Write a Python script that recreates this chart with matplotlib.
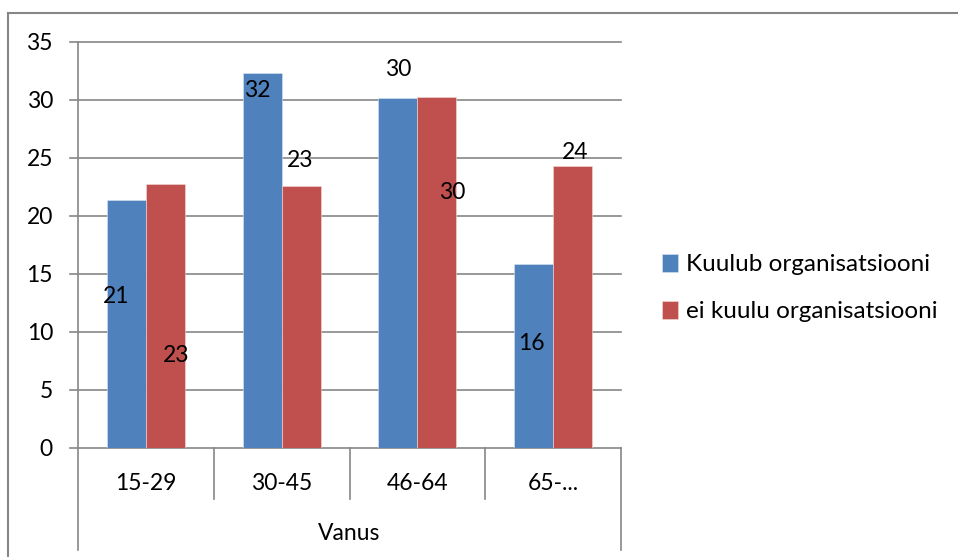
import numpy as np
from matplotlib import pyplot as plt
from matplotlib.lines import Line2D

plt.rcParams['font.family'] = ['Lato', 'DejaVu Sans']

categories = ['15-29', '30-45', '46-64', '65-...']
group_title = 'Vanus'
series_names = ['Kuulub organisatsiooni', 'ei kuulu organisatsiooni']
kuulub = [21.4, 32.3, 30.2, 15.9]
ei_kuulu = [22.8, 22.6, 30.3, 24.3]
label_kuulub = ['21', '32', '30', '16']
label_ei = ['23', '23', '30', '24']
yticks = [0, 5, 10, 15, 20, 25, 30, 35]

# where the data labels were dragged to (x offset from category, y in data units)
lab_pos_k = [(-0.22, 13.1), (-0.18, 30.8), (-0.143, 32.6), (-0.16, 9.05)]
lab_pos_e = [(0.22, 8.0), (0.135, 24.8), (0.255, 22.0), (0.16, 25.5)]

blue = '#4F81BD'
red = '#C0504D'
grey = '#868686'
fs = 16.5

W, H = 958, 557
fig = plt.figure(figsize=(W / 100, H / 100), dpi=100)
ax = fig.add_axes([78 / W, (H - 448) / H, (621 - 78) / W, (448 - 42) / H])

x = np.arange(len(categories))
w = 0.287
ax.bar(x - w / 2, kuulub, w, color=blue, edgecolor='#dce6f2', linewidth=0.4,
       label=series_names[0], zorder=3)
ax.bar(x + w / 2, ei_kuulu, w, color=red, edgecolor='#f2dcdb', linewidth=0.4,
       label=series_names[1], zorder=3)

for i in range(len(categories)):
    dx, yy = lab_pos_k[i]
    ax.text(i + dx, yy, label_kuulub[i], ha='center', va='center', fontsize=fs, zorder=5)
    dx, yy = lab_pos_e[i]
    ax.text(i + dx, yy, label_ei[i], ha='center', va='center', fontsize=fs, zorder=5)

ax.set_xlim(-0.5, len(categories) - 0.5)
ax.set_ylim(0, 35)
for s in ax.spines.values():
    s.set_visible(False)
for t in yticks:
    ax.plot([-0.5 - 8 / 135.75, len(categories) - 0.5], [t, t], color=grey,
            linewidth=1.2, clip_on=False, zorder=1)
ax.set_yticks(yticks)
ax.tick_params(axis='y', length=0, pad=18, labelsize=fs)
ax.set_xticks([])

# category axis drawn like excel's multi-level labels
px = 35 / (448 - 42)  # data units per pixel in y
ax.plot([-0.5, -0.5], [35, -(550 - 448) * px], color=grey, linewidth=1.2, clip_on=False)
ax.plot([3.5, 3.5], [0, -(550 - 448) * px], color=grey, linewidth=1.2, clip_on=False)
for b in [0.5, 1.5, 2.5]:
    ax.plot([b, b], [0, -(499 - 448) * px], color=grey, linewidth=1.2, clip_on=False)
for i, c in enumerate(categories):
    ax.text(i, -(483 - 448) * px, c, ha='center', va='center', fontsize=fs)
ax.text(1.5, -(533 - 448) * px, group_title, ha='center', va='center', fontsize=fs)

ax.legend(loc='center left', bbox_to_anchor=((662 - 78) / (621 - 78), (448 - 288) / 406),
          frameon=False, fontsize=17.5, handlelength=0.65, handleheight=0.75,
          handletextpad=0.35, labelspacing=1.05, borderaxespad=0, borderpad=0)

# outer chart border
fig.add_artist(Line2D([8 / W, 8 / W], [0, 1 - 13 / H], color=grey, linewidth=1.5))
fig.add_artist(Line2D([8 / W, 1], [1 - 13 / H, 1 - 13 / H], color=grey, linewidth=1.5))

fig.savefig('out.png', dpi=100)
